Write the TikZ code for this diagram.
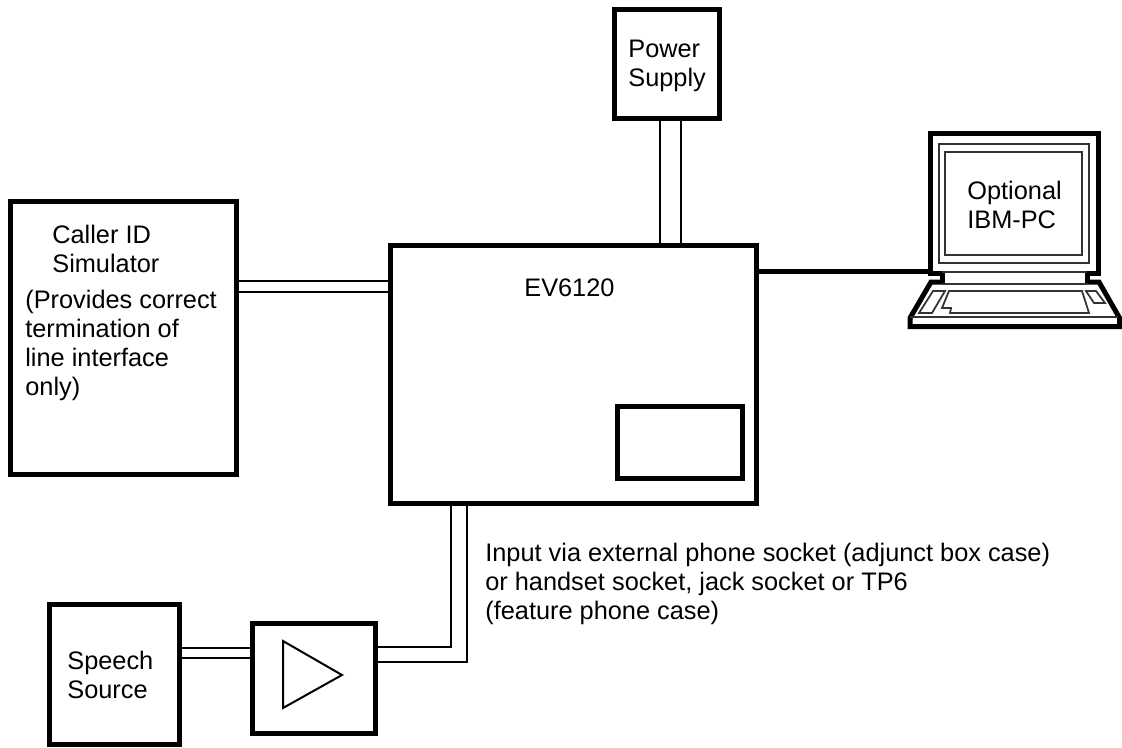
\documentclass[tikz,border=0pt]{standalone}
\usepackage{fontspec}
\setmainfont{Liberation Sans}
\usetikzlibrary{calc}
\begin{document}
\begin{tikzpicture}
    [x=0.02cm, y=-0.02cm,
     Block/.style={draw, line width=0.1cm, inner sep=0pt},
     Wire/.style={line width=0.05cm, color=black},
     Heavy/.style={line width=0.1cm, color=black, miter limit=20},
     Fine/.style={line width=0.035cm, color=black!80},
     Label/.style={inner sep=0pt, align=left, anchor=north west, font=\fontsize{14.42}{16.5}\selectfont}
    ]
\useasboundingbox (0,0) rectangle (1122,747);

%blocks
\node[Block, minimum width=2.1cm, minimum height=2.18cm] (power) at (667,64) {};
\node[Block, minimum width=7.32cm, minimum height=5.16cm] (main) at (573.5,374.5) {};
\node[Block, minimum width=2.52cm, minimum height=1.46cm] (port) at (680,442.5) {};
\node[Block, minimum width=4.52cm, minimum height=5.46cm] (caller) at (123.5,338) {};
\node[Block, minimum width=2.6cm, minimum height=2.81cm] (speech) at (114.5,674.5) {};
\node[Block, minimum width=2.46cm, minimum height=2.2cm] (amp) at (314,678.5) {};

%labels
\node[Label] (power text) at (628,40) {Power\\Supply};
\node[Label] (main text) at (524,278) {EV6120};
\node[Label] (caller text) at (52,225) {Caller ID\\Simulator};
\node[Label] (caller note) at (25,290) {(Provides correct\\termination of\\line interface\\only)};
\node[Label] (speech text) at (67,651) {Speech\\Source};
\node[Label] (input text) at (485,543) {Input via external phone socket (adjunct box case)\\or handset socket, jack socket or TP6\\(feature phone case)};
\node[Label] (pc text) at (967,181) {Optional\\IBM-PC};

%double wires
\draw[Wire] ($(power.south)+(-7,0)$) coordinate (p1) -- (p1 |- main.north);
\draw[Wire] ($(power.south)+(14,0)$) coordinate (p2) -- (p2 |- main.north);
\draw[Wire] ($(caller.east)+(0,-57)$) coordinate (c1) -- (c1 -| main.west);
\draw[Wire] ($(caller.east)+(0,-46)$) coordinate (c2) -- (c2 -| main.west);
\draw[Wire] ($(speech.east)+(0,-26.5)$) coordinate (s1) -- (s1 -| amp.west);
\draw[Wire] ($(speech.east)+(0,-16.5)$) coordinate (s2) -- (s2 -| amp.west);
\draw[Wire] ($(amp.east)+(0,-31.5)$) coordinate (a1) -| ($(main.south west)+(63,0)$);
\draw[Wire] ($(amp.east)+(0,-16.5)$) coordinate (a2) -| ($(main.south west)+(79,0)$);

%amplifier symbol
\draw[line width=0.04cm] (283,641) -- (283,708) -- (342,675) -- cycle;

%laptop
\coordinate (lid) at (928,271);
\draw[Heavy] (main.east |- lid) -- (lid);
\draw[Heavy] (942,284) -- (942,273) -- (930.5,273) -- (930.5,133.5) -- (1098.5,133.5) -- (1098.5,273) -- (1087,273) -- (1087,284);
\draw[Heavy] (942,282) -- (931,282) -- (910,318) -- (910,326.5) -- (1119.5,326.5) -- (1119.5,318) -- (1099,282) -- (1087,282);
\draw[Fine] (939,144) rectangle (1089,263);
\draw[Fine] (945,152) rectangle (1082,255);
\draw[Fine] (942,272) -- (1087,272);
\draw[Fine] (942,284) -- (1087,284);
\draw[Fine] (910,317) -- (1118,317);
%keyboard
\draw[Fine] (949,291) -- (1082,291) -- (1089,313) -- (950,313) -- (951,308) -- (942,308) -- cycle;
\draw[Fine] (933,291) -- (945,291) -- (932,313) -- (919,313) -- cycle;
\draw[Fine] (1086,291) -- (1096,291) -- (1105,303) -- (1094,303) -- cycle;

\end{tikzpicture}
\end{document}
